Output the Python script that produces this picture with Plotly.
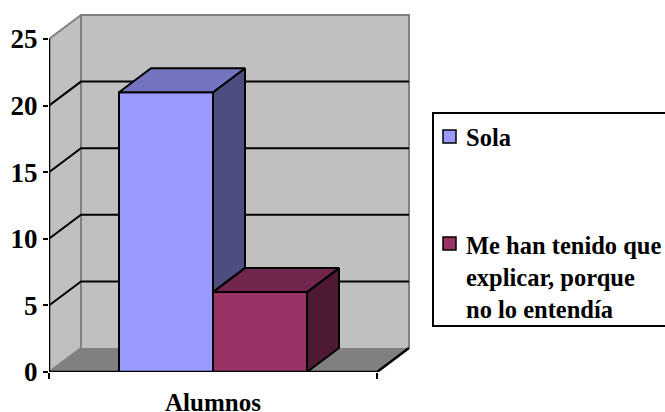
"""3D-look clustered column chart: Alumnos, Sola vs. Me han tenido que explicar."""

import plotly.graph_objects as go

CATEGORY = "Alumnos"
SERIES_NAMES = ["Sola", "Me han tenido que<br>explicar, porque<br>no lo entendía"]
SERIES_VALUES = [21, 6]
Y_TICKS = [0, 5, 10, 15, 20, 25]

FRONT_COLORS = ["#9999FF", "#993366"]
TOP_COLORS = ["#7373BF", "#73264D"]
SIDE_COLORS = ["#4D4D80", "#4D1933"]
WALL_COLOR = "#C0C0C0"
FLOOR_COLOR = "#808080"

FONT = "Liberation Serif"
TICK_SIZE = 27
LABEL_SIZE = 25
LEGEND_SIZE = 24.5

WIDTH, HEIGHT = 665, 412

# plot frame in pixels: front plane spans x 49-377, values 0-25 span y 372-39
LEFT, RIGHT, TOP, BOTTOM = 49, 413, 11, 372
PX_PER_X = 328
PX_PER_Y = 13.32
DX = 32 / PX_PER_X  # depth offset in axis units
DY = 24 / PX_PER_Y
BAR_WIDTH = 0.2866
Y_MAX = Y_TICKS[-1]


def polygon(points):
    return "M " + " L ".join(f"{x},{y}" for x, y in points) + " Z"


def px_x(px):
    return (px - LEFT) / (RIGHT - LEFT)


def px_y(px):
    return (BOTTOM - px) / (BOTTOM - TOP)


def paper_rect(x0, y0, x1, y1, fill, line_width, color="black"):
    return dict(
        type="rect", xref="paper", yref="paper",
        x0=px_x(x0), x1=px_x(x1), y0=px_y(y0), y1=px_y(y1),
        fillcolor=fill, line=dict(color=color, width=line_width),
    )


def main() -> None:
    fig = go.Figure()

    # walls, floor and gridlines sit under every trace
    shapes = [
        dict(type="path", layer="below", xref="x", yref="y", fillcolor=WALL_COLOR, line_width=0,
             path=polygon([(0, 0), (DX, DY), (DX, Y_MAX + DY), (0, Y_MAX)])),
        dict(type="path", layer="below", xref="x", yref="y", fillcolor=WALL_COLOR, line_width=0,
             path=polygon([(DX, DY), (1 + DX, DY), (1 + DX, Y_MAX + DY), (DX, Y_MAX + DY)])),
        dict(type="path", layer="below", xref="x", yref="y", fillcolor=FLOOR_COLOR, line_width=0,
             path=polygon([(0, 0), (1, 0), (1 + DX, DY), (DX, DY)])),
        dict(type="path", layer="below", xref="x", yref="y", line=dict(color=FLOOR_COLOR, width=2),
             path=f"M 0,0 L {DX},{DY} L {DX},{Y_MAX + DY} L {1 + DX},{Y_MAX + DY} L {1 + DX},{DY}"),
        dict(type="line", layer="below", xref="x", yref="y", line=dict(color=FLOOR_COLOR, width=2),
             x0=0, y0=Y_MAX, x1=DX, y1=Y_MAX + DY),
    ]
    for tick in Y_TICKS[1:-1]:
        shapes.append(dict(
            type="path", layer="below", xref="x", yref="y", line=dict(color="black", width=2),
            path=f"M 0,{tick} L {DX},{tick + DY} L {1 + DX},{tick + DY}",
        ))

    # front faces
    center = 0.5
    for i, (name, value) in enumerate(zip(SERIES_NAMES, SERIES_VALUES)):
        fig.add_trace(go.Bar(
            x=[center], y=[value], width=BAR_WIDTH, offset=(i - 1) * BAR_WIDTH,
            name=name.replace("<br>", " "),
            marker=dict(color=FRONT_COLORS[i], line=dict(color="black", width=2)),
            cliponaxis=False, showlegend=False,
        ))

    # side and top faces, back to front
    for i, value in enumerate(SERIES_VALUES):
        x0 = center + (i - 1) * BAR_WIDTH
        x1 = x0 + BAR_WIDTH
        # the lower part of the first bar's side is hidden behind the second bar
        base = SERIES_VALUES[i + 1] if i + 1 < len(SERIES_VALUES) else 0
        side = [(x1, base), (x1 + DX, base + DY), (x1 + DX, value + DY), (x1, value), (x1, base)]
        top = [(x0, value), (x1, value), (x1 + DX, value + DY), (x0 + DX, value + DY), (x0, value)]
        for points, color in ((side, SIDE_COLORS[i]), (top, TOP_COLORS[i])):
            fig.add_trace(go.Scatter(
                x=[p[0] for p in points], y=[p[1] for p in points],
                mode="lines", fill="toself", fillcolor=color,
                line=dict(color="black", width=2),
                cliponaxis=False, showlegend=False, hoverinfo="skip",
            ))

    # axis lines on the front plane, and the floor edge
    fig.add_trace(go.Scatter(
        x=[0, 0, 1, 1 + DX], y=[Y_MAX, 0, 0, DY], mode="lines",
        line=dict(color="black", width=2.5),
        cliponaxis=False, showlegend=False, hoverinfo="skip",
    ))

    # legend box runs off the right edge of the picture, as in the original
    shapes.append(paper_rect(433, 113, 700, 326, "white", 2))
    shapes.append(paper_rect(443, 130, 456, 143, FRONT_COLORS[0], 1.5))
    shapes.append(paper_rect(443, 237, 456, 250, FRONT_COLORS[1], 1.5))
    annotations = [
        dict(xref="paper", yref="paper", x=px_x(465), y=px_y(137), text=f"<b>{SERIES_NAMES[0]}</b>",
             xanchor="left", yanchor="middle", align="left", showarrow=False, borderpad=0,
             font=dict(family=FONT, size=LEGEND_SIZE, color="black")),
        dict(xref="paper", yref="paper", x=px_x(465), y=px_y(277), text=f"<b>{SERIES_NAMES[1]}</b>",
             xanchor="left", yanchor="middle", align="left", showarrow=False, borderpad=0,
             font=dict(family=FONT, size=LEGEND_SIZE, color="black")),
    ]

    fig.update_layout(
        width=WIDTH,
        height=HEIGHT,
        barmode="overlay",
        paper_bgcolor="white",
        plot_bgcolor="white",
        margin=dict(l=LEFT, r=WIDTH - RIGHT, t=TOP, b=HEIGHT - BOTTOM),
        font=dict(family=FONT, color="black"),
        showlegend=False,
        shapes=shapes,
        annotations=annotations,
        xaxis=dict(
            range=[0, (RIGHT - LEFT) / PX_PER_X],
            automargin=False,
            tickmode="array", tickvals=[center], ticktext=[f"<b>{CATEGORY}</b>"],
            ticks="outside", ticklen=0, ticklabelstandoff=8,
            tickfont=dict(family=FONT, size=LABEL_SIZE, color="black"),
            minor=dict(tickmode="array", tickvals=[0, 1], ticks="outside", ticklen=6,
                       tickwidth=2, tickcolor="black"),
            showgrid=False, showline=False, zeroline=False,
        ),
        yaxis=dict(
            range=[0, (BOTTOM - TOP) / PX_PER_Y],
            automargin=False,
            tickmode="array", tickvals=Y_TICKS,
            ticktext=[f"<b>{t}</b>" for t in Y_TICKS],
            ticks="outside", ticklen=5, tickwidth=2, tickcolor="black",
            ticklabelstandoff=0,
            tickfont=dict(family=FONT, size=TICK_SIZE, color="black"),
            showgrid=False, showline=False, zeroline=False,
        ),
    )

    # the default 8px body margin would push the figure past the window edge
    fig.write_html(
        "out.html",
        config={"displayModeBar": False},
        post_script="document.body.style.margin = '0';",
    )


if __name__ == "__main__":
    main()
